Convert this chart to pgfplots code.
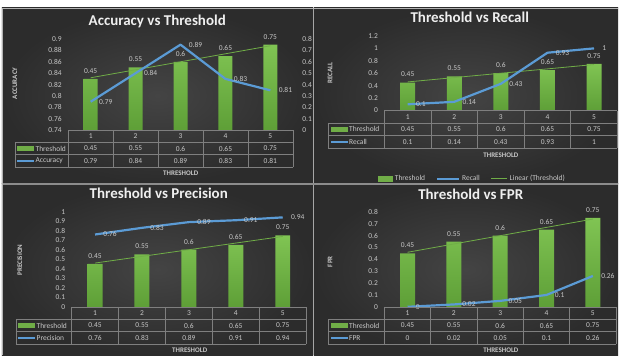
\documentclass[border=0pt]{standalone}
\usepackage{fontspec}
\setmainfont{Carlito}
\usepackage{pgfplots}
\pgfplotsset{compat=1.18}
\usepackage{pgfplotstable}

\definecolor{bgin}{HTML}{444444}
\definecolor{bgout}{HTML}{2C2C2C}
\definecolor{barhi}{HTML}{80C453}
\definecolor{barlo}{HTML}{5E9F37}
\definecolor{barkey}{HTML}{70AD47}
\definecolor{trend}{HTML}{70AD47}
\definecolor{metric}{HTML}{5B9BD5}
\definecolor{txt}{HTML}{C8C8C8}
\definecolor{ttl}{HTML}{EFEFEF}
\definecolor{tabline}{HTML}{7F7F7F}
\definecolor{sep}{HTML}{A6A6A6}

% threshold per run and the resulting scores
\pgfplotstableread{
cat thr  acc  rec  prec fpr  trend
1   0.45 0.79 0.1  0.76 0    0.46
2   0.55 0.84 0.14 0.83 0.02 0.53
3   0.6  0.89 0.43 0.89 0.05 0.60
4   0.65 0.83 0.93 0.91 0.1  0.67
5   0.75 0.81 1    0.94 0.26 0.74
}\metrics

\newcommand\lbl{\fontsize{7.5}{9}\selectfont}
\newcommand\ttlfont{\fontsize{15}{18}\selectfont\bfseries}
\newcommand\axfont{\fontsize{7}{8}\selectfont\bfseries}

\pgfplotsset{
  panel/.style={scale only axis, anchor=south west, xmin=0.5, xmax=5.5, xtick=\empty,
    axis line style={draw=none}, major tick length=0pt, clip=false,
    tick label style={font=\lbl, text=txt},
    /pgf/number format/assume math mode=true},
  leftticks/.style={yticklabel style={anchor=east, xshift=-3pt}},
  rightticks/.style={yticklabel pos=right, yticklabel style={anchor=west, xshift=6pt}},
  thrbars/.style={ybar, bar width=#1, draw=none, top color=barhi, bottom color=barlo, forget plot},
  barlabels/.style={forget plot, draw=none, mark=none, nodes near coords,
    point meta=explicit symbolic,
    every node near coord/.append style={anchor=south, yshift=2pt, font=\lbl, text=txt}},
  trendline/.style={color=trend, line width=0.8pt, mark=none, forget plot},
  metricline/.style={color=metric, line width=2.2pt, mark=none, line join=round, forget plot,
    nodes near coords, point meta=explicit symbolic,
    every node near coord/.append style={anchor=west, xshift=4pt, font=\lbl, text=txt}},
}

\tikzset{tabtext/.style={font=\lbl, text=txt, inner sep=0pt},
  tl/.style={draw=tabline, line width=0.6pt}}

% data table under a chart: #1 key column left, #2/#3 plot left/right,
% #4 header top, #5 row height, #6 metric column, #7 metric name
\newcommand{\datatable}[7]{%
  \pgfmathsetmacro\cw{(#3-#2)/5}
  \draw[tl] (#2,#4) -- (#3,#4);
  \foreach \k in {1,2,3} \draw[tl] (#1,{#4+\k*#5}) -- (#3,{#4+\k*#5});
  \draw[tl] (#1,{#4+#5}) -- (#1,{#4+3*#5});
  \foreach \k in {0,...,5} \draw[tl] ({#2+\k*\cw},#4) -- ({#2+\k*\cw},{#4+3*#5});
  \foreach \r in {0,...,4} {
    \pgfmathsetmacro\cx{#2+(\r+0.5)*\cw}
    \pgfplotstablegetelem{\r}{cat}\of\metrics
    \node[tabtext] at (\cx,{#4+0.5*#5}) {\pgfplotsretval};
    \pgfplotstablegetelem{\r}{thr}\of\metrics
    \node[tabtext] at (\cx,{#4+1.5*#5}) {\pgfplotsretval};
    \pgfplotstablegetelem{\r}{#6}\of\metrics
    \node[tabtext] at (\cx,{#4+2.5*#5}) {\pgfplotsretval};
  }
  \fill[barkey] ({#1+2.5},{#4+1.5*#5-2.3}) rectangle ({#1+19.5},{#4+1.5*#5+2.3});
  \node[tabtext, anchor=west] at ({#1+20.5},{#4+1.5*#5}) {Threshold};
  \draw[metric, line width=2pt] ({#1+2.5},{#4+2.5*#5}) -- ({#1+19.5},{#4+2.5*#5});
  \node[tabtext, anchor=west] at ({#1+20.5},{#4+2.5*#5}) {#7};
}

\begin{document}
\begin{tikzpicture}[x=1pt, y=-1pt]
\fill[white] (0,0) rectangle (619,356);

% ---------------- Accuracy vs Threshold ----------------
\shade[inner color=bgin, outer color=bgout] (2,8) rectangle (313.5,183.5);
\node[font=\ttlfont, text=ttl] at (157.5,21) {Accuracy vs Threshold};
\begin{axis}[panel, rightticks, at={(68.3pt,-130.5pt)}, width=225pt, height=91.5pt,
  ymin=0, ymax=0.8, ytick={0,0.1,0.2,0.3,0.4,0.5,0.6,0.7,0.8}]
  \addplot[thrbars=14pt] table[x=cat, y=thr] {\metrics};
  \addplot[barlabels] table[x=cat, y=thr, meta=thr] {\metrics};
  \addplot[trendline] table[x=cat, y=trend] {\metrics};
\end{axis}
\begin{axis}[panel, leftticks, at={(68.3pt,-130.5pt)}, width=225pt, height=91.5pt,
  ymin=0.74, ymax=0.9, ytick={0.74,0.76,0.78,0.8,0.82,0.84,0.86,0.88,0.9}]
  \addplot[metricline] table[x=cat, y=acc, meta=acc] {\metrics};
\end{axis}
\datatable{15}{68.3}{293.3}{130.5}{12.2}{acc}{Accuracy}
\node[font=\axfont, text=txt] at (181,173.5) {THRESHOLD};
\node[font=\axfont, text=txt, rotate=90] at (15,83.5) {ACCURACY};

% ---------------- Threshold vs Recall ----------------
\shade[inner color=bgin, outer color=bgout] (314.5,8) rectangle (619,183.5);
\node[font=\ttlfont, text=ttl] at (470.5,17.5) {Threshold vs Recall};
\begin{axis}[panel, leftticks, at={(385pt,-110.7pt)}, width=233.3pt, height=74.7pt,
  ymin=0, ymax=1.2, ytick={0,0.2,0.4,0.6,0.8,1,1.2},
  legend style={at={(0.377,-0.914)}, anchor=center, draw=none, fill=none,
    font=\lbl, text=txt, legend columns=3,
    /tikz/every even column/.append style={column sep=9pt}},
  legend cell align=left]
  \addplot[thrbars=15pt] table[x=cat, y=thr] {\metrics};
  \addplot[barlabels] table[x=cat, y=thr, meta=thr] {\metrics};
  \addplot[trendline] table[x=cat, y=trend] {\metrics};
  \addplot[metricline] table[x=cat, y=rec, meta=rec] {\metrics};
  \addlegendimage{legend image code/.code={\fill[barkey] (0pt,-2.5pt) rectangle (15pt,2.5pt);}}
  \addlegendentry{Threshold}
  \addlegendimage{legend image code/.code={\draw[metric, line width=2pt] (0pt,0pt) -- (22pt,0pt);}}
  \addlegendentry{Recall}
  \addlegendimage{legend image code/.code={\draw[trend, line width=0.8pt] (0pt,0pt) -- (16pt,0pt);}}
  \addlegendentry{Linear (Threshold)}
\end{axis}
\datatable{329}{385}{618.3}{110.7}{12.5}{rec}{Recall}
\node[font=\axfont, text=txt] at (501.7,155) {THRESHOLD};
\node[font=\axfont, text=txt, rotate=90] at (330.7,73.3) {RECALL};

% ---------------- Threshold vs Precision ----------------
\shade[inner color=bgin, outer color=bgout] (2,183.5) rectangle (313.5,356);
\node[font=\ttlfont, text=ttl] at (159,194) {Threshold vs Precision};
\begin{axis}[panel, leftticks, at={(71.7pt,-307.3pt)}, width=235pt, height=95.3pt,
  ymin=0, ymax=1, ytick={0,0.1,0.2,0.3,0.4,0.5,0.6,0.7,0.8,0.9,1}]
  \addplot[thrbars=15pt] table[x=cat, y=thr] {\metrics};
  \addplot[barlabels] table[x=cat, y=thr, meta=thr] {\metrics};
  \addplot[trendline] table[x=cat, y=trend] {\metrics};
  \addplot[metricline] table[x=cat, y=prec, meta=prec] {\metrics};
\end{axis}
\datatable{16}{71.7}{306.7}{307.3}{12.5}{prec}{Precision}
\node[font=\axfont, text=txt] at (190,351) {THRESHOLD};
\node[font=\axfont, text=txt, rotate=90] at (20,260.5) {PRECISION};

% ---------------- Threshold vs FPR ----------------
\shade[inner color=bgin, outer color=bgout] (314.5,183.5) rectangle (619,356);
\node[font=\ttlfont, text=ttl] at (471.5,194.5) {Threshold vs FPR};
\begin{axis}[panel, leftticks, at={(385pt,-307.3pt)}, width=232pt, height=95pt,
  ymin=0, ymax=0.8, ytick={0,0.1,0.2,0.3,0.4,0.5,0.6,0.7,0.8}]
  \addplot[thrbars=15pt] table[x=cat, y=thr] {\metrics};
  \addplot[barlabels] table[x=cat, y=thr, meta=thr] {\metrics};
  \addplot[trendline] table[x=cat, y=trend] {\metrics};
  \addplot[metricline] table[x=cat, y=fpr, meta=fpr] {\metrics};
\end{axis}
\datatable{329}{385}{617}{307.3}{12.5}{fpr}{FPR}
\node[font=\axfont, text=txt] at (501.7,351) {THRESHOLD};
\node[font=\axfont, text=txt, rotate=90] at (330.7,262) {FPR};

% panel borders
\draw[sep, line width=1pt] (314,8) -- (314,356);
\draw[black!45, line width=2pt] (2,184) -- (619,184);
\draw[black!30, line width=0.8pt] (2,8.4) -- (619,8.4);
\draw[black!30, line width=0.8pt] (2.4,8) -- (2.4,356);
\end{tikzpicture}
\end{document}
